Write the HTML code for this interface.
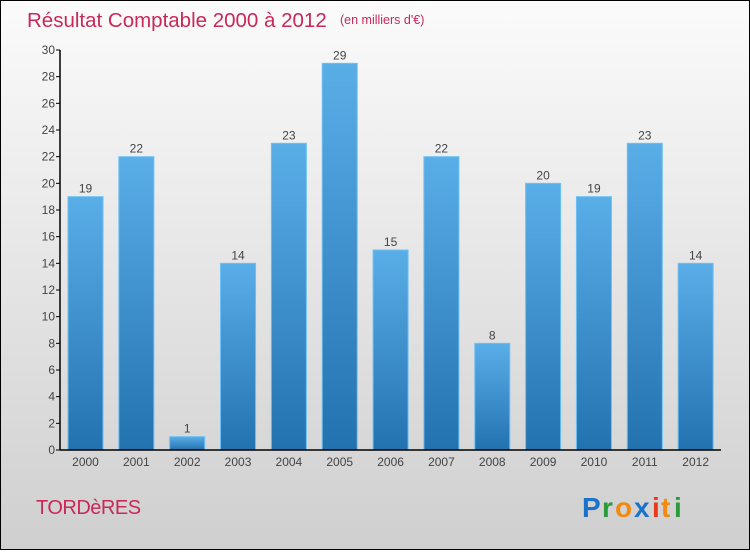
<!DOCTYPE html>
<html><head><meta charset="utf-8">
<style>
html,body{margin:0;padding:0;}
body{width:750px;height:550px;overflow:hidden;font-family:"Liberation Sans",sans-serif;}
</style></head>
<body>
<svg id="chart" width="750" height="550" xmlns="http://www.w3.org/2000/svg">
<defs>
<linearGradient id="bg" x1="0" y1="0" x2="0" y2="1">
<stop offset="0" stop-color="#fbfbfb"/><stop offset="1" stop-color="#cfcfcf"/>
</linearGradient>
<linearGradient id="bar" x1="0" y1="0" x2="0" y2="1">
<stop offset="0" stop-color="#5aaee8"/><stop offset="1" stop-color="#2372b0"/>
</linearGradient>
</defs>
<rect x="0.5" y="0.5" width="749" height="549" fill="url(#bg)" stroke="#000"/>
<text x="27" y="27" font-size="20.5" fill="#c8285a">Résultat Comptable 2000 à 2012</text>
<text x="340" y="24" font-size="12.5" fill="#c8285a">(en milliers d'€)</text>
<text x="36" y="514" font-size="20" fill="#c8285a" letter-spacing="-0.5">TORDèRES</text>
<g font-size="28" font-weight="bold" font-family="'Liberation Sans',sans-serif">
<text x="582" y="517" fill="#1a73c8">P</text><text x="602" y="517" fill="#2a9a3a">r</text><text x="615" y="517" fill="#f08a10">o</text><text x="634" y="517" fill="#1a73c8">x</text><text x="652" y="517" fill="#e83a1a">i</text><text x="661" y="517" fill="#f08a10">t</text><text x="674" y="517" fill="#2a9a3a">i</text>
</g>
<g id="plot"></g>
</svg>
<script>
const categories=["2000","2001","2002","2003","2004","2005","2006","2007","2008","2009","2010","2011","2012"];
const values=[19,22,1,14,23,29,15,22,8,20,19,23,14];
const yTicks=[0,2,4,6,8,10,12,14,16,18,20,22,24,26,28,30];
const NS="http://www.w3.org/2000/svg";
const x0=60,x1=721,y0=450,y1=50,yMax=30;
const band=(x1-x0)/categories.length;
const y=v=>y0-(v/yMax)*(y0-y1);
const xb=i=>x0+i*band;
const g=document.getElementById('plot');
function el(t,a,txt){const e=document.createElementNS(NS,t);for(const k in a)e.setAttribute(k,a[k]);if(txt!==undefined)e.textContent=txt;g.appendChild(e);return e;}
values.forEach((v,i)=>{
  const r=el('rect',{x:xb(i)+8,y:y(v),width:35,height:y0-y(v),fill:'url(#bar)',stroke:'#6cc0f4','stroke-width':1});
  
  
  const t=el('text',{x:xb(i)+25.5,y:y(v)-4,'font-size':12,fill:'#444','text-anchor':'middle'},String(v));
  
  
  const c=el('text',{x:xb(i)+25.5,y:y0+16,'font-size':12,fill:'#444','text-anchor':'middle'},categories[i]);
  
  
});
yTicks.forEach(v=>{
  const l=el('line',{x1:x0-4,x2:x0,y1:y(v),y2:y(v),stroke:'#000'});
  
  
  const t=el('text',{x:x0-5,y:y(v)+4,'font-size':12,fill:'#444','text-anchor':'end'},String(v));
  
  
});
const ya=el('line',{x1:x0,x2:x0,y1:y1,y2:y0,stroke:'#000','stroke-width':1.5});


const xa=el('line',{x1:x0,x2:x1,y1:y0,y2:y0,stroke:'#000','stroke-width':1.5});


</script>
</body></html>
